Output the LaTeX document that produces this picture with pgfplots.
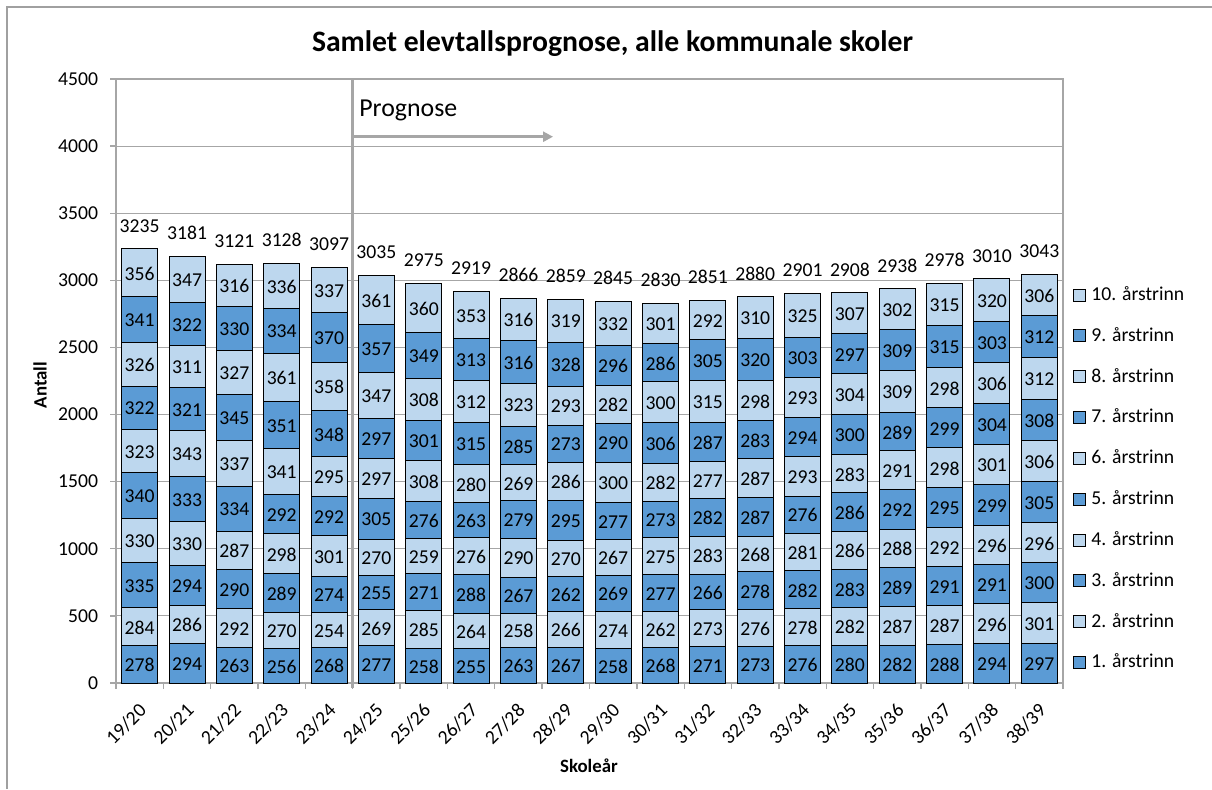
\documentclass[border=0pt]{standalone}
\usepackage{pgfplots}
\pgfplotsset{compat=1.18}
\usepackage{pgfplotstable}
\usetikzlibrary{arrows.meta}
\usepackage{fontspec}
\setmainfont{Carlito}
\definecolor{dblue}{HTML}{5B9BD5}
\definecolor{lblue}{HTML}{BDD7EE}
\definecolor{gridgray}{HTML}{A6A6A6}
\definecolor{framegray}{HTML}{A0A0A0}
\newcommand\lbl{\fontsize{11.8}{14}\selectfont}

\pgfplotstableread{
x a1 a2 a3 a4 a5 a6 a7 a8 a9 a10 tot
0 278 284 335 330 340 323 322 326 341 356 3235
1 294 286 294 330 333 343 321 311 322 347 3181
2 263 292 290 287 334 337 345 327 330 316 3121
3 256 270 289 298 292 341 351 361 334 336 3128
4 268 254 274 301 292 295 348 358 370 337 3097
5 277 269 255 270 305 297 297 347 357 361 3035
6 258 285 271 259 276 308 301 308 349 360 2975
7 255 264 288 276 263 280 315 312 313 353 2919
8 263 258 267 290 279 269 285 323 316 316 2866
9 267 266 262 270 295 286 273 293 328 319 2859
10 258 274 269 267 277 300 290 282 296 332 2845
11 268 262 277 275 273 282 306 300 286 301 2830
12 271 273 266 283 282 277 287 315 305 292 2851
13 273 276 278 268 287 287 283 298 320 310 2880
14 276 278 282 281 276 293 294 293 303 325 2901
15 280 282 283 286 286 283 300 304 297 307 2908
16 282 287 289 288 292 291 289 309 309 302 2938
17 288 287 291 292 295 298 299 298 315 315 2978
18 294 296 291 296 299 301 304 306 303 320 3010
19 297 301 300 296 305 306 308 312 312 306 3043
}\datatable

\pgfplotsset{
  seg/.style={
    fill=#1, draw=black, line width=0.6pt,
    nodes near coords, point meta=explicit symbolic,
    nodes near coords style={font=\lbl, text=black, anchor=center, inner sep=0pt, yshift=-0.5pt},
  },
  geom/.style={
    at={(69.6pt,63.6pt)}, anchor=south west,
    scale only axis, width=568.2pt, height=362.4pt,
    xmin=-0.5, xmax=19.5, ymin=0, ymax=4500,
  },
}

\begin{document}
\begin{tikzpicture}
\path[use as bounding box] (0,0) rectangle (727.2pt,473.4pt);
\draw[framegray, line width=1pt] (4.2pt,0pt) -- (4.2pt,469.2pt) -- (727.2pt,469.2pt);
\node[font=\bfseries\fontsize{17.8}{20}\selectfont, anchor=base] at (367.5pt,442.2pt) {Samlet elevtallsprognose, alle kommunale skoler};
\node[font=\bfseries\fontsize{11.3}{13}\selectfont, rotate=90, anchor=center] at (24pt,242.4pt) {Antall};
\node[font=\bfseries\fontsize{11.3}{13}\selectfont, anchor=center] at (353.4pt,13.8pt) {Skoleår};
\begin{axis}[
  geom,
  ybar stacked, bar width=21.6pt,
  ytick={0,500,...,4500},
  ymajorgrids, grid style={gridgray, line width=0.6pt},
  axis line style={gridgray, line width=1pt},
  tick style={gridgray, line width=0.8pt},
  tick align=outside, tick pos=left, major tick length=3.6pt,
  xtick={-0.5,0.5,...,19.5}, xticklabels={},
  extra x ticks={0,1,...,19},
  extra x tick labels={19/20,20/21,21/22,22/23,23/24,24/25,25/26,26/27,27/28,28/29,29/30,30/31,31/32,32/33,33/34,34/35,35/36,36/37,37/38,38/39},
  extra x tick style={major tick length=0pt, xticklabel style={yshift=-13.8pt, xshift=2.8pt, rotate=45, anchor=east, inner sep=1pt}},
  tick label style={font=\lbl, text=black},
  yticklabel style={xshift=-3.6pt},
  /pgf/number format/assume math mode=true,
  /pgf/number format/1000 sep={},
  clip=false,
  reverse legend,
  legend cell align=left,
  legend image code/.code={\draw[#1, line width=0.6pt] (0pt,-3.6pt) rectangle (7.2pt,3.6pt);},
  legend style={at={(1.0106,0.6573)}, anchor=north west, draw=none, fill=none, inner sep=0pt,
    row sep=14pt, column sep=3pt, font=\lbl,
    nodes={inner sep=0pt, text height=8.5pt, text depth=2pt}},
]
\addplot[seg=dblue] table[x=x, y=a1, meta=a1] {\datatable};
\addplot[seg=lblue] table[x=x, y=a2, meta=a2] {\datatable};
\addplot[seg=dblue] table[x=x, y=a3, meta=a3] {\datatable};
\addplot[seg=lblue] table[x=x, y=a4, meta=a4] {\datatable};
\addplot[seg=dblue] table[x=x, y=a5, meta=a5] {\datatable};
\addplot[seg=lblue] table[x=x, y=a6, meta=a6] {\datatable};
\addplot[seg=dblue] table[x=x, y=a7, meta=a7] {\datatable};
\addplot[seg=lblue] table[x=x, y=a8, meta=a8] {\datatable};
\addplot[seg=dblue] table[x=x, y=a9, meta=a9] {\datatable};
\addplot[seg=lblue] table[x=x, y=a10, meta=a10] {\datatable};
\legend{1. årstrinn,2. årstrinn,3. årstrinn,4. årstrinn,5. årstrinn,6. årstrinn,7. årstrinn,8. årstrinn,9. årstrinn,10. årstrinn}
\draw[gridgray, line width=1.8pt] ([yshift=-3pt]axis cs:4.5,0) -- (axis cs:4.5,4500);
\draw[gridgray, line width=1.8pt, -{Triangle[length=6pt,width=6pt]}] (axis cs:4.5,4070) -- (axis cs:8.73,4070);
\node[anchor=base west, inner sep=0pt, font=\fontsize{15.5}{18}\selectfont] at (axis cs:4.632,4224) {Prognose};
\end{axis}
\begin{axis}[geom, hide axis, clip=false]
\addplot[draw=none, mark=none, nodes near coords, point meta=explicit symbolic,
  nodes near coords style={font=\lbl, text=black, anchor=center, inner sep=0pt, yshift=13.8pt}]
  table[x=x, y=tot, meta=tot] {\datatable};
\end{axis}
\end{tikzpicture}
\end{document}
